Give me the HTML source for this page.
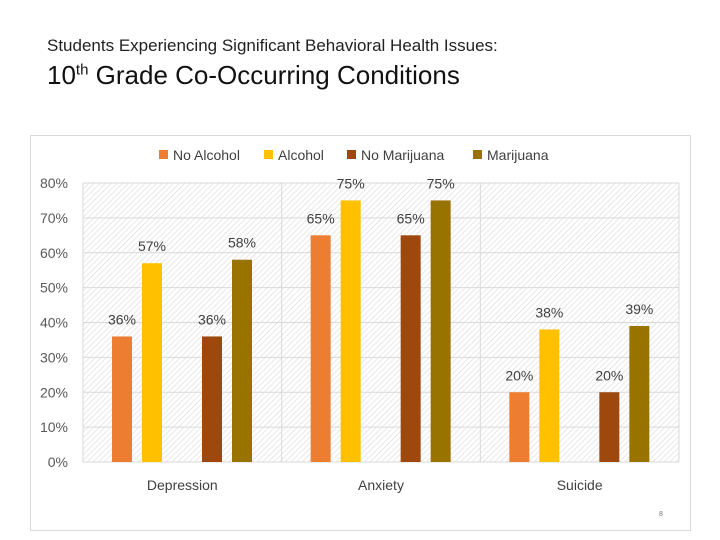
<!DOCTYPE html>
<html><head><meta charset="utf-8"><style>
body{margin:0;width:720px;height:540px;background:#fff;overflow:hidden;font-family:"Liberation Sans",sans-serif}
.t1{position:absolute;left:47px;top:36px;font-size:17px;color:#222}
.t2{position:absolute;left:47px;top:60px;font-size:26px;color:#111}
</style></head><body>
<div class="t1">Students Experiencing Significant Behavioral Health Issues:</div>
<div class="t2">10<sup style="font-size:15px">th</sup> Grade Co-Occurring Conditions</div>
<svg id="c" width="720" height="540" style="position:absolute;left:0;top:0">
<defs><pattern id="h" width="4" height="4" patternUnits="userSpaceOnUse" patternTransform="rotate(45)"><rect width="4" height="4" fill="#fff"/><line x1="0" y1="0" x2="0" y2="4" stroke="#d9d9d9" stroke-width="1.2"/></pattern></defs>
<rect x="30.5" y="135.5" width="660" height="395" fill="#fff" stroke="#d9d9d9"/>
<g id="g"></g>
</svg>
<div style="position:absolute;left:659px;top:511px;font-size:7px;color:#777">8</div>
<script>
const categories=["Depression","Anxiety","Suicide"];
const seriesNames=["No Alcohol","Alcohol","No Marijuana","Marijuana"];
const noAlcohol=[36,65,20];
const alcohol=[57,75,38];
const noMarijuana=[36,65,20];
const marijuana=[58,75,39];
const yTicks=[0,10,20,30,40,50,60,70,80];
const colors=["#ed7d31","#ffc000","#9e480e","#997300"];
const series=[noAlcohol,alcohol,noMarijuana,marijuana];
const X0=83,X1=679,Y0=462,Y1=183,cw=(X1-X0)/categories.length,offs=[29,59,119,149],bw=20;
const y=v=>Y0-(v/80)*(Y0-Y1);
const NS="http://www.w3.org/2000/svg",g=document.getElementById('g');
function mk(t,a,txt){const e=document.createElementNS(NS,t);for(const k in a)e.setAttribute(k,a[k]);if(txt!=null)e.textContent=txt;g.appendChild(e);return e;}
let e=mk('rect',{x:X0,y:Y1,width:X1-X0,height:Y0-Y1,fill:'url(#h)'});


yTicks.forEach(t=>{
 let l=mk('line',{x1:X0,x2:X1,y1:y(t),y2:y(t),stroke:'#d9d9d9'});
 
 
 let s=mk('text',{x:68,y:y(t)+5,'text-anchor':'end','font-size':14,fill:'#595959'},t+'%');
 
 
});
for(let i=0;i<=categories.length;i++){
 let l=mk('line',{x1:X0+i*cw,x2:X0+i*cw,y1:Y1,y2:Y0,stroke:'#d9d9d9'});
 
 
}
categories.forEach((c,ci)=>{
 let s=mk('text',{x:X0+ci*cw+cw/2,y:490,'text-anchor':'middle','font-size':14,fill:'#404040'},c);
 
 
 series.forEach((arr,si)=>{
  const v=arr[ci],bx=X0+ci*cw+offs[si];
  let r=mk('rect',{x:bx,y:y(v),width:bw,height:Y0-y(v),fill:colors[si]});
  
  
  let lb=mk('text',{x:bx+bw/2,y:y(v)-12,'text-anchor':'middle','font-size':14,fill:'#404040'},v+'%');
  
  
 });
});
const lx=[159,264,347,473];
seriesNames.forEach((n,i)=>{
 let r=mk('rect',{x:lx[i],y:150,width:9,height:9,fill:colors[i]});
 
 
 let t=mk('text',{x:lx[i]+14,y:160,'font-size':14,fill:'#404040'},n);
 
 
});
</script>
</body></html>
